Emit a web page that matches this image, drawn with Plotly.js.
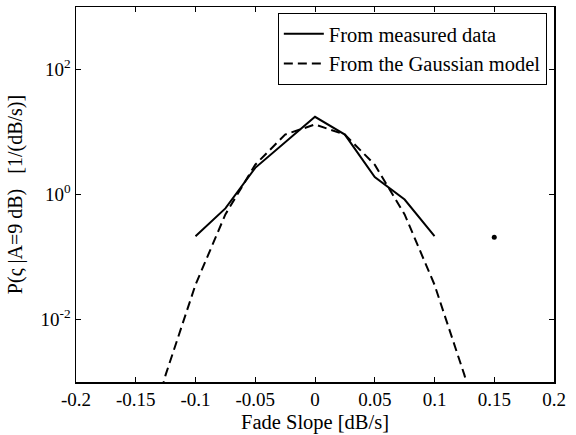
<!DOCTYPE html>
<html>
<head>
<meta charset="utf-8">
<script src="https://cdn.plot.ly/plotly-3.0.1.min.js"></script>
<style>html,body{margin:0;padding:0;background:#fff;}#chart{width:576px;height:435px;}</style>
</head>
<body>
<div id="chart"></div>
<script>
// Fade slope bins [dB/s]
const slopeMeasured = [-0.1, -0.075, -0.05, -0.025, 0, 0.025, 0.05, 0.075, 0.1];
const pdfMeasured   = [0.215, 0.6, 2.67, 6.9, 17.5, 9.1, 1.9, 0.83, 0.215];
const slopeIsolated = [0.15];
const pdfIsolated   = [0.207];
const slopeGauss = [-0.15, -0.125, -0.1, -0.075, -0.05, -0.025, 0, 0.025, 0.05, 0.075, 0.1, 0.125, 0.15];
const pdfGauss   = [2.3e-5, 0.0013, 0.036, 0.48, 3.0, 9.1, 13.2, 9.1, 3.0, 0.48, 0.036, 0.0013, 2.3e-5];
const xTicks = [-0.2, -0.15, -0.1, -0.05, 0, 0.05, 0.1, 0.15, 0.2];
const xTickText = ['-0.2', '-0.15', '-0.1', '-0.05', '0', '0.05', '0.1', '0.15', '0.2'];
const yTicks = [0.01, 1, 100];
const yTickText = ['10<sup>-2</sup>', '10<sup>0</sup>', '10<sup>2</sup>'];
const seriesNames = ['From measured data', 'From the Gaussian model'];
const xTitle = 'Fade Slope [dB/s]';
const yTitle = 'P(ς |A=9 dB)   [1/(dB/s)]';

const fam = '"Liberation Serif", "Times New Roman", serif';

const traces = [
  {x: slopeMeasured, y: pdfMeasured, type: 'scatter', mode: 'lines', name: seriesNames[0],
   line: {color: '#000', width: 2}},
  {x: slopeGauss, y: pdfGauss, type: 'scatter', mode: 'lines', name: seriesNames[1],
   line: {color: '#000', width: 2, dash: '9px,5px'}},
  {x: slopeIsolated, y: pdfIsolated, type: 'scatter', mode: 'markers', showlegend: false,
   marker: {color: '#000', size: 5}}
];

const layout = {
  width: 576, height: 435,
  margin: {l: 76, r: 22, t: 7, b: 53},
  paper_bgcolor: '#fff', plot_bgcolor: '#fff',
  font: {family: fam, size: 19, color: '#000'},
  showlegend: true,
  legend: {x: 0.985, y: 0.984, xanchor: 'right', yanchor: 'top',
           bordercolor: '#000', borderwidth: 1, bgcolor: '#fff',
           font: {family: fam, size: 20.5, color: '#000'},
           tracegroupgap: 0, itemwidth: 40},
  xaxis: {range: [-0.2, 0.2], tickvals: xTicks, ticktext: xTickText,
          ticks: 'inside', ticklen: 5, tickwidth: 1, tickcolor: '#000',
          showline: true, linecolor: '#000', linewidth: 1.5, mirror: 'ticks',
          showgrid: false, zeroline: false,
          tickfont: {family: fam, size: 19, color: '#000'}},
  yaxis: {type: 'log', range: [-3, 3], tickvals: yTicks, ticktext: yTickText,
          ticks: 'inside', ticklen: 5, tickwidth: 1, tickcolor: '#000',
          showline: true, linecolor: '#000', linewidth: 1.5, mirror: 'ticks',
          showgrid: false, zeroline: false,
          tickfont: {family: fam, size: 19, color: '#000'},
          title: {text: yTitle, font: {family: fam, size: 20, color: '#000'}, standoff: 12}},
  annotations: [
    {text: xTitle, xref: 'paper', yref: 'paper', x: 0.5, y: 0, xanchor: 'center', yanchor: 'top',
     yshift: -27, showarrow: false, font: {family: fam, size: 20.5, color: '#000'}}
  ]
};

Plotly.newPlot('chart', traces, layout, {displayModeBar: false, staticPlot: true});
</script>
</body>
</html>
